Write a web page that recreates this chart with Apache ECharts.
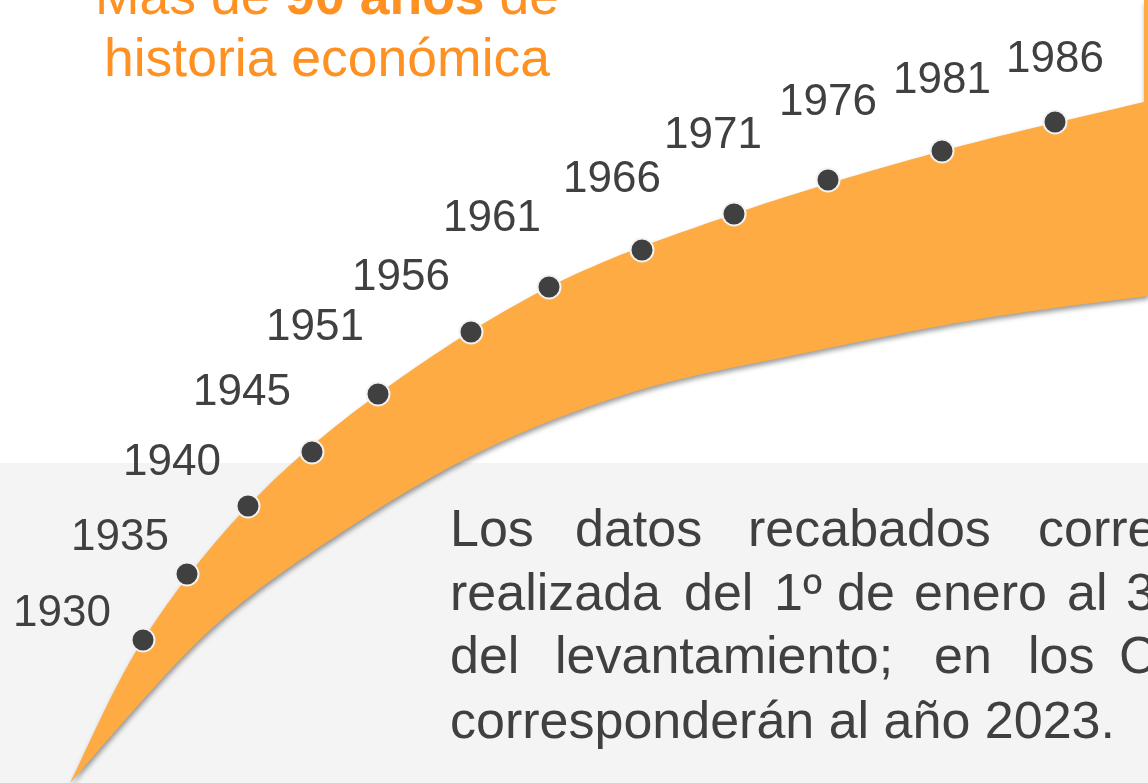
<!DOCTYPE html>
<html>
<head>
<meta charset="utf-8">
<title>Más de 90 años de historia económica</title>
<script src="https://cdn.jsdelivr.net/npm/echarts@6/dist/echarts.min.js"></script>
<style>
  html, body { margin: 0; padding: 0; background: #fff; }
  #main { width: 1148px; height: 783px; }
</style>
</head>
<body>
<div id="main"></div>
<script>
// años de cada levantamiento
var years = ['1930', '1935', '1940', '1945', '1951', '1956', '1961', '1966', '1971', '1976', '1981', '1986'];
// puntos sobre la curva (x a la derecha, y hacia abajo)
var dotX = [143, 187, 248, 312, 378, 471, 549, 642, 734, 828, 942, 1055];
var dotY = [640, 574, 506, 452, 394, 332, 287, 250, 214, 180, 151, 122];
// centro de cada etiqueta de año
var labelX = [62, 120, 172, 242, 315, 401, 492, 612, 713, 828, 942, 1055];
var labelY = [614, 538, 463, 393, 328, 278, 219, 180, 136, 103, 81, 60];
// borde superior e inferior de la franja naranja
var topX = [70, 143, 248, 378, 549, 734, 942, 1144];
var edgeTop = [783, 640, 506, 394, 287, 214, 151, 102];
var bottomX = [70, 210, 350, 490, 640, 800, 980, 1148];
var edgeBottom = [783, 630, 527, 447, 390, 354, 319, 296];
// punta de la flecha (arriba a la derecha, casi fuera del cuadro)
var arrowX = [1144, 1148];
var arrowY = [0, 0];

var ORANGE = '#fdab42';
var DARK = '#404040';
var FONT = '"Liberation Sans", Arial, sans-serif';

var chart = echarts.init(document.getElementById('main'), null, { renderer: 'canvas' });

// curva suave por los puntos (catmull-rom), solo para dibujar
var spline = function(pts, steps) {
    var out = [pts[0]];
    for (var i = 0; i < pts.length - 1; i++) {
        var p0 = pts[i - 1] || pts[i], p1 = pts[i], p2 = pts[i + 1], p3 = pts[i + 2] || pts[i + 1];
        for (var s = 1; s <= steps; s++) {
            var t = s / steps, t2 = t * t, t3 = t2 * t;
            out.push([0, 1].map(function(k) {
                return 0.5 * ((2 * p1[k]) + (-p0[k] + p2[k]) * t +
                    (2 * p0[k] - 5 * p1[k] + 4 * p2[k] - p3[k]) * t2 +
                    (-p0[k] + 3 * p1[k] - 3 * p2[k] + p3[k]) * t3);
            }));
        }
    }
    return out;
};

var dots = [], labels = [];
for (var j = 0; j < years.length; j++) {
    dots.push({ name: years[j], value: [dotX[j], dotY[j]] });
    labels.push({ name: years[j], value: [labelX[j], labelY[j]] });
}

var renderBand = function(params, api) {
    var top = topX.map(function(x, i) { return api.coord([x, edgeTop[i]]); });
    var bottom = bottomX.map(function(x, i) { return api.coord([x, edgeBottom[i]]); });
    var arrow = arrowX.map(function(x, i) { return api.coord([x, arrowY[i]]); });
    var pts = spline(top, 20).concat(arrow).concat(spline(bottom, 20).reverse());
    return {
        type: 'polygon',
        shape: { points: pts },
        style: {
            fill: ORANGE,
            shadowColor: 'rgba(0,0,0,0.4)', shadowBlur: 5, shadowOffsetX: 1, shadowOffsetY: 3
        }
    };
};

// texto justificado: cada palabra en su sitio
var paragraph = [
    { y: 532, words: [['Los', 450], ['datos', 575], ['recabados', 748], ['corresponden', 1038]] },
    { y: 596, words: [['realizada', 450], ['del', 684], ['1º', 774], ['de', 837], ['enero', 914], ['al', 1067], ['31', 1126]] },
    { y: 659, words: [['del', 450], ['levantamiento;', 555], ['en', 934], ['los', 1028], ['Censos', 1119]] },
    { y: 724, words: [['corresponderán al año 2023.', 450]] }
];

var graphics = [
    { type: 'rect', z: -10, shape: { x: 0, y: 463, width: 1148, height: 320 }, style: { fill: '#f4f4f4' } },
    {
        type: 'text', z: 10, x: 327, y: -1,
        style: {
            text: '{r|Más de }{b|90 años}{r| de}',
            align: 'center', verticalAlign: 'middle',
            rich: {
                r: { fontSize: 53.5, fontFamily: FONT, fill: '#ff9022' },
                b: { fontSize: 53.5, fontFamily: FONT, fontWeight: 'bold', fill: '#ff9022' }
            }
        }
    },
    {
        type: 'text', z: 10, x: 327, y: 61,
        style: { text: 'historia económica', fontSize: 53.5, fontFamily: FONT, fill: '#ff9022', align: 'center', verticalAlign: 'middle' }
    }
];
paragraph.forEach(function(line) {
    line.words.forEach(function(w) {
        graphics.push({
            type: 'text', z: 10, x: w[1], y: line.y,
            style: { text: w[0], fontSize: 52, fontFamily: FONT, fill: DARK, align: 'left', verticalAlign: 'middle' }
        });
    });
});

var option = {
    backgroundColor: '#ffffff',
    animation: false,
    grid: { left: 0, right: 0, top: 0, bottom: 0 },
    xAxis: { type: 'value', min: 0, max: 1148, show: false },
    yAxis: { type: 'value', min: 0, max: 783, inverse: true, show: false },
    graphic: graphics,
    series: [
        {
            name: 'franja', type: 'custom', renderItem: renderBand, data: [0], z: 1, silent: true
        },
        {
            name: 'años', type: 'scatter', data: dots, z: 5,
            symbol: 'circle', symbolSize: 23,
            itemStyle: { color: DARK, opacity: 1, borderColor: '#f2f2f2', borderWidth: 2 }
        },
        {
            name: 'etiquetas', type: 'scatter', data: labels, z: 6,
            symbolSize: 1, itemStyle: { color: 'rgba(0,0,0,0)', opacity: 1 },
            label: {
                show: true, position: 'inside', formatter: '{b}',
                fontSize: 44, fontFamily: FONT, color: DARK
            }
        }
    ]
};
chart.setOption(option);
</script>
</body>
</html>
